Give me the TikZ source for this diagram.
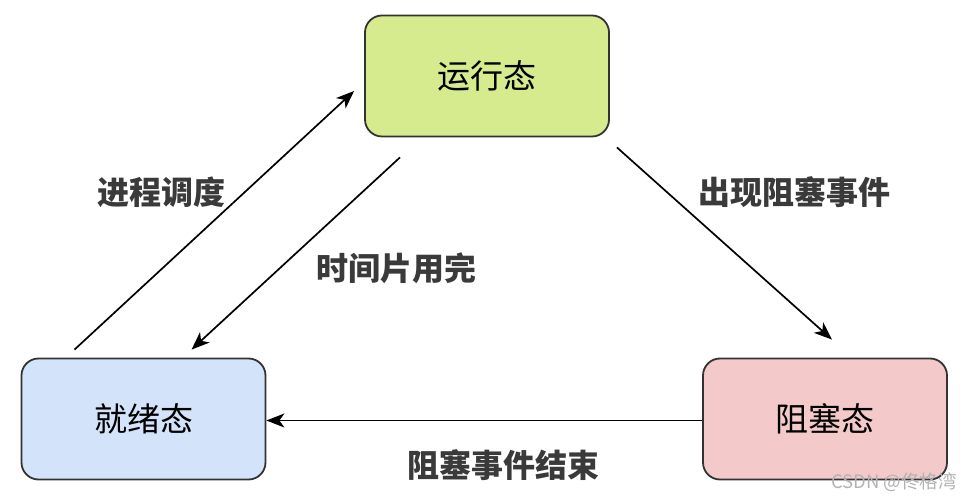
\documentclass[tikz,border=0pt]{standalone}
\usepackage{fontspec}
\setmainfont{Noto Sans CJK SC}
\usetikzlibrary{arrows.meta}
\definecolor{rungreen}{HTML}{D6EB8E}
\definecolor{readyblue}{HTML}{D3E4FA}
\definecolor{blockpink}{HTML}{F3C9C9}
\definecolor{edgegray}{HTML}{333333}
\definecolor{labelgray}{HTML}{3A3A3A}

\begin{document}
\begin{tikzpicture}[x=1pt,y=1pt,
        state/.style={draw=edgegray, line width=1.8pt, rounded corners=17pt,
            minimum width=244pt, minimum height=121pt, inner sep=0pt,
            font=\fontsize{33}{36}\selectfont},
        edgelabel/.style={text=labelgray, font=\fontsize{32}{36}\selectfont\bfseries},
        trans/.style={line width=1.7pt, -{Stealth[length=18pt,width=14pt,inset=5pt]}}]
    \useasboundingbox (0,0) rectangle (962,498);
    % states
    \node[state, fill=rungreen] (run) at (487,422) {运行态};
    \node[state, fill=readyblue] (ready) at (143.5,79) {就绪态};
    \node[state, fill=blockpink] (block) at (825,79) {阻塞态};
    % transitions
    \draw[trans] ([xshift=-69pt,yshift=8pt]ready.north) -- ([xshift=-10pt,yshift=-15pt]run.west);
    \draw[trans] ([xshift=-87pt,yshift=-20pt]run.south) -- ([xshift=48pt,yshift=8pt]ready.north);
    \draw[trans] ([xshift=7pt,yshift=-10pt]run.south east) -- ([xshift=7pt,yshift=18pt]block.north);
    \draw[trans] ([yshift=-1.5pt]block.west) -- ([yshift=-1.5pt]ready.east);
    % labels
    \node[edgelabel] (lsched) at (161,306) {进程调度};
    \node[edgelabel] (ltimeout) at (396,230) {时间片用完};
    \node[edgelabel] (lblockev) at (794,306) {出现阻塞事件};
    \node[edgelabel] (lwake) at (503,33) {阻塞事件结束};
    \node[text=gray!60, font=\fontsize{18.5}{20}\selectfont] (mark) at (894,16) {CSDN @佟格湾};
\end{tikzpicture}
\end{document}
